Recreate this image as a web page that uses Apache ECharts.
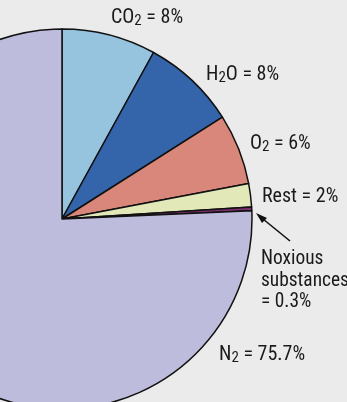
<!DOCTYPE html>
<html>
<head>
<meta charset="utf-8">
<script src="https://cdn.jsdelivr.net/npm/echarts@6/dist/echarts.min.js"></script>
<style>
  html, body { margin: 0; padding: 0; background: #ebebeb; }
  #chart { width: 347px; height: 402px; }
</style>
</head>
<body>
<div id="chart"></div>
<script>
// Exhaust gas composition (percent by volume)
const components = ['CO2', 'H2O', 'O2', 'Rest', 'Noxious substances', 'N2'];
const shares = [8, 8, 6, 2, 0.3, 75.7];
const sliceColors = ['#96c3de', '#3465ab', '#d8877a', '#e2e8b8', '#7a2f6e', '#bebcdc'];

// Where each label sits (left edge, vertical middle), in px
const labelSpots = [
  [111, 18], [206, 75], [250, 144], [262, 197], [261, 281], [219, 355]
];

const FONT = '"Roboto Condensed", "Liberation Sans Narrow", sans-serif';

function formula(name) {
  // chemical formulas get subscript digits
  if (name === 'Rest') return 'Rest';
  if (name === 'Noxious substances') return 'Noxious\nsubstances\n';
  return name.replace(/(\d)/g, '{sub|$1}');
}

const chart = echarts.init(document.getElementById('chart'), null, { renderer: 'canvas' });

chart.setOption({
  backgroundColor: '#ebebeb',
  animation: false,
  series: [{
    type: 'pie',
    center: [62, 219],
    radius: 190,
    startAngle: 90,
    clockwise: true,
    avoidLabelOverlap: false,
    silent: true,
    data: components.map((c, i) => ({
      name: c,
      value: shares[i],
      itemStyle: { color: sliceColors[i] },
      // the three-line label is set a touch tighter so it fits the right edge
      label: c === 'Noxious substances' ? { fontSize: 19.4, lineHeight: 21.5 } : undefined
    })),
    itemStyle: { borderColor: '#111', borderWidth: 1.5 },
    label: {
      show: true,
      position: 'outside',
      color: '#1a1a1a',
      fontFamily: FONT,
      fontSize: 20,
      lineHeight: 22,
      formatter: p => formula(p.name) + (p.name === 'Noxious substances' ? '' : ' ') + '= ' + p.value + '%',
      rich: {
        sub: { fontFamily: FONT, fontSize: 15, lineHeight: 22, padding: [7, 0, 0, 0], color: '#1a1a1a' }
      }
    },
    labelLine: { show: false },
    labelLayout: p => ({
      x: labelSpots[p.dataIndex][0],
      y: labelSpots[p.dataIndex][1],
      align: 'left',
      verticalAlign: 'middle'
    })
  }],
  graphic: [{
    type: 'line',
    shape: { x1: 290, y1: 241, x2: 263, y2: 219 },
    style: { stroke: '#111', lineWidth: 1.6 }
  }, {
    type: 'polygon',
    shape: { points: [[256, 213], [267, 218], [262, 223]] },
    style: { fill: '#111' }
  }]
});
</script>
</body>
</html>
